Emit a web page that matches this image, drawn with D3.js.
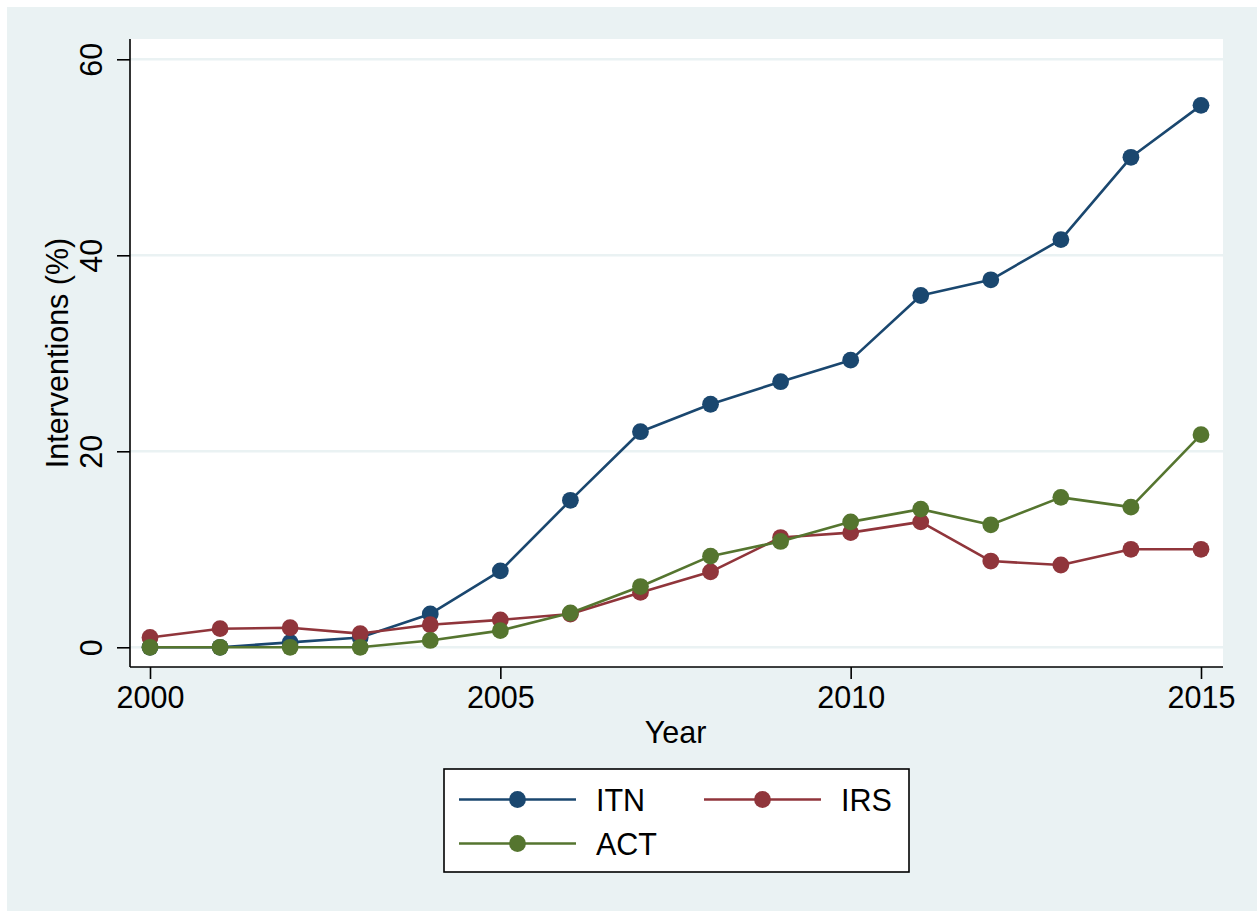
<!DOCTYPE html>
<html>
<head>
<meta charset="utf-8">
<script src="https://cdn.jsdelivr.net/npm/d3@7"></script>
<style>
html,body{margin:0;padding:0;background:#fff;}
svg{display:block;}
text{font-family:"Liberation Sans",Arial,sans-serif;fill:#000;}
</style>
</head>
<body>
<svg id="chart" width="1257" height="911"></svg>
<script>
const years = [2000,2001,2002,2003,2004,2005,2006,2007,2008,2009,2010,2011,2012,2013,2014,2015];
const itn = [0,0,0.5,1.0,3.4,7.8,15.0,22.0,24.8,27.1,29.3,35.9,37.5,41.6,50.0,55.3];
const irs = [1.0,1.9,2.0,1.4,2.3,2.8,3.4,5.6,7.7,11.2,11.7,12.8,8.8,8.4,10.0,10.0];
const act = [0,0,0,0,0.7,1.7,3.5,6.2,9.3,10.8,12.8,14.1,12.5,15.3,14.3,21.7];
const seriesNames = ["ITN","IRS","ACT"];
const seriesColors = ["#1a476f","#90353b","#55752f"];
const yTicks = [0,20,40,60];
const xTicks = [2000,2005,2010,2015];
const xTitle = "Year";
const yTitle = "Interventions (%)";

const svg = d3.select("#chart");
const bgColor = "#eaf2f3";
const font = 30.5;

// outer background
svg.append("rect").attr("x",7).attr("y",7).attr("width",1250).attr("height",904).attr("fill",bgColor);

const plot = {left:130, right:1223, top:39, bottom:667};
svg.append("rect").attr("x",plot.left).attr("y",plot.top)
  .attr("width",plot.right-plot.left).attr("height",plot.bottom-plot.top).attr("fill","#fff");

const x = d3.scaleLinear().domain([2000,2015]).range([150,1201]);
const y = d3.scaleLinear().domain([0,60]).range([647.3,59.3]);

// gridlines
svg.append("g").selectAll("line").data(yTicks).join("line")
  .attr("x1",plot.left).attr("x2",plot.right)
  .attr("y1",d=>y(d)).attr("y2",d=>y(d))
  .attr("stroke",bgColor).attr("stroke-width",2.6);

// series
const series = [itn,irs,act];
const line = d3.line().x((d,i)=>x(years[i])).y(d=>y(d));
series.forEach((vals,k)=>{
  const g = svg.append("g");
  g.append("path").datum(vals).attr("d",line).attr("fill","none")
    .attr("stroke",seriesColors[k]).attr("stroke-width",2.6).attr("stroke-linejoin","round");
  g.selectAll("circle").data(vals).join("circle")
    .attr("cx",(d,i)=>x(years[i])).attr("cy",d=>y(d)).attr("r",8.4)
    .attr("fill",seriesColors[k]);
});

// Y axis
const yAxis = svg.append("g").attr("transform",`translate(${plot.left},0)`)
  .call(d3.axisLeft(y).tickValues(yTicks).tickSize(13).tickSizeOuter(0).tickFormat(d3.format("d")));
yAxis.select(".domain").attr("d",`M0,${plot.top}V${plot.bottom}`).attr("stroke","#000").attr("stroke-width",1.6);
yAxis.selectAll(".tick line").attr("stroke","#000").attr("stroke-width",1.6);
yAxis.selectAll(".tick text")
  .attr("x",null).attr("dy",null)
  .attr("transform","translate(-28,0) rotate(-90)")
  .attr("text-anchor","middle").attr("y",0)
  .style("font-size",font+"px").style("font-family","Liberation Sans, Arial, sans-serif").attr("fill","#000");

// X axis
const xAxis = svg.append("g").attr("transform",`translate(0,${plot.bottom})`)
  .call(d3.axisBottom(x).tickValues(xTicks).tickSize(12).tickSizeOuter(0).tickFormat(d3.format("d")));
xAxis.select(".domain").attr("d",`M${plot.left},0H${plot.right}`).attr("stroke","#000").attr("stroke-width",1.6);
xAxis.selectAll(".tick line").attr("stroke","#000").attr("stroke-width",1.6);
xAxis.selectAll(".tick text").attr("dy",null).attr("y",41)
  .style("font-size",font+"px").style("font-family","Liberation Sans, Arial, sans-serif").attr("fill","#000");

// axis titles
svg.append("text").attr("x",(150+1201)/2).attr("y",743).attr("text-anchor","middle")
  .style("font-size",font+"px").text(xTitle);
svg.append("text").attr("transform",`translate(68,${(plot.top+plot.bottom)/2}) rotate(-90)`)
  .attr("text-anchor","middle").style("font-size",font+"px").text(yTitle);

// legend
const lg = svg.append("g");
lg.append("rect").attr("x",444).attr("y",769).attr("width",465).attr("height",103)
  .attr("fill","#fff").attr("stroke","#000").attr("stroke-width",1.6);
const legendItems = [
  {i:0, x0:459, row:0, tx:596},
  {i:1, x0:704, row:0, tx:841},
  {i:2, x0:459, row:1, tx:596}
];
const rowY = [799.5, 843.5];
legendItems.forEach(it=>{
  const yy = rowY[it.row];
  lg.append("line").attr("x1",it.x0).attr("x2",it.x0+117).attr("y1",yy).attr("y2",yy)
    .attr("stroke",seriesColors[it.i]).attr("stroke-width",2.6);
  lg.append("circle").attr("cx",it.x0+58.5).attr("cy",yy).attr("r",8.4).attr("fill",seriesColors[it.i]);
  lg.append("text").attr("x",it.tx).attr("y",yy+11).style("font-size",font+"px").text(seriesNames[it.i]);
});
</script>
</body>
</html>
